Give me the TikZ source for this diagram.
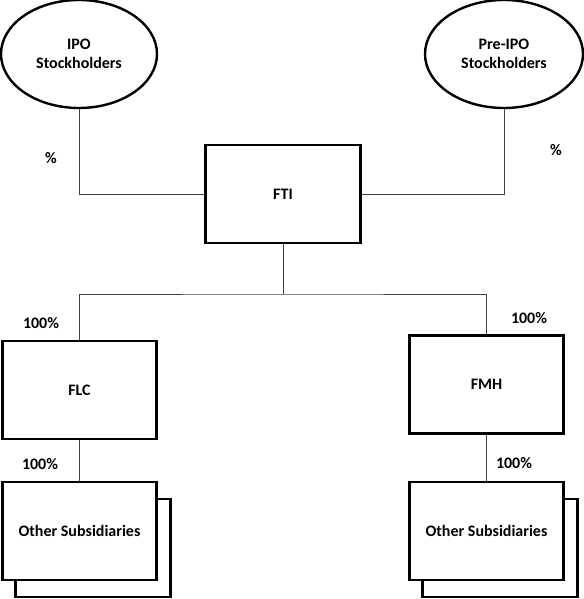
\documentclass[tikz,border=0pt]{standalone}
\usepackage{fontspec}
\setmainfont{Carlito}
\usepackage{tikz}
\usetikzlibrary{shapes.geometric}

\begin{document}
\begin{tikzpicture}[
      x=0.75pt,
      y=-0.75pt,
      font=\fontsize{12}{14.5}\selectfont\bfseries,
      holder/.style={
        ellipse,
        draw,
        line width=1.8pt,
        minimum width=117pt,
        minimum height=81pt,
        align=center,
        inner sep=0pt
      },
      entity/.style={
        rectangle,
        draw,
        line width=2.2pt,
        fill=white,
        minimum width=116pt,
        minimum height=73.5pt,
        align=center
      },
      link/.style={
        line width=0.75pt,
        draw=black!75
      },
      share/.style={
        anchor=center
      }
  ]

    \useasboundingbox (0,0) rectangle (584,599);

    % Aktionaerer
    \node[holder] (ipo) at (79,54) {IPO\\Stockholders};
    \node[holder, minimum width=118.5pt] (preipo) at (504,54) {Pre-IPO\\Stockholders};

    % Selskaber
    \node[entity] (fti) at (283,194) {FTI};
    \node[entity] (flc) at (79.5,390) {FLC};
    \node[entity] (fmh) at (486.5,384.5) {FMH};

    % Oevrige datterselskaber (to lag)
    \node[entity] (flcsubback) at (93,548) {};
    \node[entity] (flcsub) at (79.5,531) {Other Subsidiaries};
    \node[entity] (fmhsubback) at (500,548) {};
    \node[entity] (fmhsub) at (486.5,531) {Other Subsidiaries};

    % Forbindelser
    \coordinate (bus) at (283,294);
    \draw[link] (ipo.south) |- (fti.west);
    \draw[link] (preipo.south) |- (fti.east);
    \draw[link] (fti.south) -- (bus);
    \draw[link] (flc.north) |- (bus) -| (fmh.north);
    \draw[link] (flc.south) -- (flcsub.north);
    \draw[link] (fmh.south) -- (fmhsub.north);

    % Ejerandele
    \node[share] (pctipo) at (51,158) {\%};
    \node[share] (pctpre) at (556,150) {\%};
    \node[share] (pctflc) at (41,323) {100\%};
    \node[share] (pctfmh) at (529,318) {100\%};
    \node[share] (pctflcsub) at (40,464) {100\%};
    \node[share] (pctfmhsub) at (514,463) {100\%};

  \end{tikzpicture}
\end{document}
